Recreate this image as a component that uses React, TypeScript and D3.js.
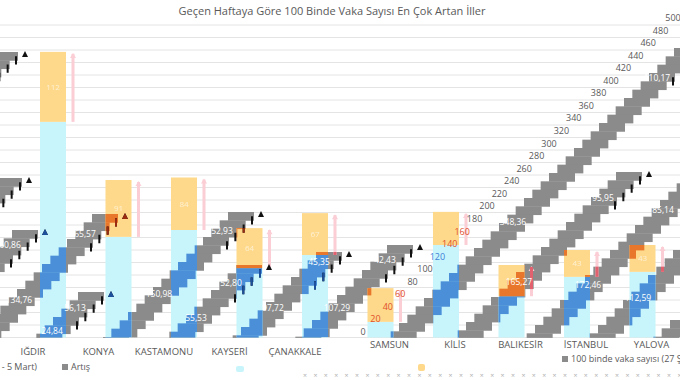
import React from "react";
import * as d3 from "d3";

const W = 680;
const H = 380;

const title = "Geçen Haftaya Göre 100 Binde Vaka Sayısı En Çok Artan İller";
const categories = ["IĞDIR", "KONYA", "KASTAMONU", "KAYSERİ", "ÇANAKKALE", "SAMSUN", "KİLİS", "BALIKESİR", "İSTANBUL", "YALOVA"];
// 100 binde vaka sayısı (previous week) and increase
const prevWeek = [345, 161, 172, 111, 132, 25, 148, 66, 97, 105];
const increase = [112, 91, 84, 64, 67, 54, 53, 50, 43, 43];
const axisTicks = [0, 20, 40, 60, 80, 100, 120, 140, 160, 180, 200, 220, 240, 260, 280, 300, 320, 340, 360, 380, 400, 420, 440, 460, 480, 500];
const legendLeft = "100 binde vaka sayısı (27 Şubat - 5 Mart)";
const legendArtis = "Artış";
const legendRight = "100 binde vaka sayısı (27 Şubat - 5 Mart)";

// diagonal gray label bands (smeared "Artış" labels)
const bandEdge = [70, 200, 268, 332, 396, 466, 527, 594, 658, 748, 814, 886, 949, 1016];
const bandTop = [52, 178, 230, 214, 292, 212, 265, 252, 245, 48, 172, 150, 200, 320];
const bandLabelText = [[], [], ["60,86"], ["65,57", "134,76"], ["56,13", "24,84"], ["52,93", "150,98"], ["52,80", "55,53"], ["45,35", "97,72"], ["42,43", "107,29"], ["110,17", "348,36"], ["95,95", "165,27"], ["85,14", "172,46"], ["112,59"], []];
const bandLabelY = [[], [], [245], [234, 300], [308, 331], [231, 294], [283, 318], [262, 308], [260, 308], [78, 222], [198, 282], [210, 285], [298], []];

const C = {
  grid: "#e4e4e4",
  text: "#595959",
  band: "#8b8b8b",
  light: "#c8f5fc",
  dark: "#4a8fd8",
  yellow: "#fed98c",
  orange: "#e9772b",
  pink: "#fbcdd5",
  red: "#e2616f",
};

const FONT = "'Open Sans', 'DejaVu Sans', sans-serif";

export default function App() {
  const y = d3.scaleLinear().domain([0, 500]).range([337.5, 25]);
  const x = d3.scalePoint<string>().domain(categories).range([20.25, 675.25]).padding(0.5);
  const axX = d3.scaleLinear().domain([0, 500]).range([363, 673]);
  const axY = d3.scaleLinear().domain([0, 500]).range([332, 18]);
  const BAR = 26;
  const STEP = 25 / 3;
  const BW = 26;
  const base = y(0);

  const bars = categories.map((c, i) => {
    const xc = x(c) as number;
    return {
      c,
      i,
      xc,
      x0: xc - BAR / 2,
      yBase: y(prevWeek[i]),
      yTot: y(prevWeek[i] + increase[i]),
    };
  });

  const bandSteps = bandEdge.map((c, b) => {
    const out: { x: number; y: number; h: number; xr: number }[] = [];
    for (let yy = bandTop[b]; yy < base; yy += STEP) {
      out.push({ x: c - yy - BW, y: yy, h: Math.min(STEP, base - yy) + 0.4, xr: c - yy });
    }
    return out;
  });
  const allSteps = bandSteps.flat();

  const ticks = bandEdge.flatMap((c, b) => {
    const t = bandTop[b];
    const arr = [0, 1, 2, 3].map((k) => {
      const yk = t + k * STEP;
      return { x: c - yk - 2, y1: yk + STEP * 0.5, y2: yk + STEP * 1.5 };
    });
    return arr.filter((d) => d.y2 < base + 2);
  });
  const tris = bandEdge.map((c, b) => ({ x: c - bandTop[b] + 7, y: bandTop[b] + 1 }));

  // positions of all other small labels, to keep the faint in-bar labels clear of them
  const bandLabelPos = bandEdge.flatMap((c, b) => bandLabelY[b].map((yy) => ({ x: c - yy - BW / 2, y: yy })));
  const axisLabelPos = axisTicks.map((v) => ({ x: axX(v), y: axY(v) }));
  const occupied = [...bandLabelPos, ...axisLabelPos];

  const labelColor = (cx: number, cy: number) => {
    for (const b of bars) {
      if (cx >= b.x0 && cx <= b.x0 + BAR + 9) {
        if (cy >= b.yTot && cy < b.yBase) return "#e0502a";
        if (cy >= b.yBase && cy <= base && cx <= b.x0 + BAR) return "#3d7fd6";
      }
    }
    return C.text;
  };

  const tickEls = (color: string) => (
    <g>
      {ticks.map((d, k) => (
        <line key={"t" + k} x1={d.x} x2={d.x} y1={d.y1} y2={d.y2} stroke={color} strokeWidth={2} />
      ))}
      {tris.map((d, k) => (
        <path key={"tr" + k} d={`M${d.x - 3},${d.y + 4}L${d.x + 3},${d.y + 4}L${d.x},${d.y - 2}Z`} fill={color} />
      ))}
    </g>
  );

  const pinkLines = bars.map((b) => ({ x: b.x0 + BAR + 7, y1: b.yTot + 2, y2: b.yBase }));

  const xMarks = d3.range(305, 680, 10.4);

  return (
    <svg width={W} height={H} style={{ position: "absolute", left: 0, top: 0, display: "block", background: "#fff" }} fontFamily={FONT}>
      <defs>
        <clipPath id="plotClip">
          <rect x={0} y={20} width={W} height={base - 20 + 1} />
        </clipPath>
        <clipPath id="bandClip">
          {allSteps.map((s, k) => (
            <rect key={k} x={s.x} y={s.y} width={BW} height={s.h} />
          ))}
        </clipPath>
        <clipPath id="blueClip">
          {bars.map((b) => (
            <rect key={b.c} x={b.x0} y={b.yBase} width={BAR} height={base - b.yBase} />
          ))}
        </clipPath>
        <clipPath id="yellowClip">
          {bars.map((b) => (
            <rect key={b.c} x={b.x0} y={b.yTot} width={BAR} height={b.yBase - b.yTot} />
          ))}
        </clipPath>
      </defs>

      <text x={332} y={15} textAnchor="middle" fontSize={11} fill={C.text}>
        {title}
      </text>

      {axisTicks.map((v) => (
        <line key={v} x1={0} x2={W} y1={y(v)} y2={y(v)} stroke={C.grid} strokeWidth={1} />
      ))}

      <g clipPath="url(#plotClip)">
        {allSteps.map((s, k) => (
          <rect key={k} x={s.x} y={s.y} width={BW} height={s.h} fill={C.band} />
        ))}

        {bars.map((b) => (
          <g key={b.c}>
            <rect x={b.x0} y={b.yBase} width={BAR} height={base - b.yBase} fill={C.light} />
            <rect x={b.x0} y={b.yTot} width={BAR} height={b.yBase - b.yTot} fill={C.yellow} />
          </g>
        ))}

        <g clipPath="url(#bandClip)">
          {bars.map((b) => (
            <g key={b.c}>
              <rect x={b.x0} y={b.yBase} width={BAR} height={base - b.yBase} fill={C.dark} />
              <rect x={b.x0} y={b.yTot} width={BAR} height={b.yBase - b.yTot} fill={C.orange} />
            </g>
          ))}
        </g>

        {pinkLines.map((p, k) => (
          <g key={k}>
            <rect x={p.x - 1.5} y={p.y1} width={3} height={p.y2 - p.y1} fill={C.pink} />
            <path d={`M${p.x - 3},${p.y1 + 4}L${p.x + 3},${p.y1 + 4}L${p.x},${p.y1 - 1}Z`} fill={C.pink} />
          </g>
        ))}
        <g clipPath="url(#bandClip)">
          {pinkLines.map((p, k) => (
            <rect key={k} x={p.x - 1.5} y={p.y1} width={3} height={p.y2 - p.y1} fill={C.red} />
          ))}
        </g>

        {tickEls("#111")}
        <g clipPath="url(#blueClip)">{tickEls("#1c4f9c")}</g>
        <g clipPath="url(#yellowClip)">{tickEls("#9a2a10")}</g>

        {bars.map((b) => {
          const ty = (b.yTot + b.yBase) / 2;
          const clash = occupied.some((p) => Math.abs(p.x - b.xc) < 22 && Math.abs(p.y - ty) < 11);
          if (clash) return null;
          return (
            <text key={"inc" + b.c} x={b.xc} y={ty + 3} textAnchor="middle" fontSize={8} fill="#fff" opacity={0.6}>
              {increase[b.i]}
            </text>
          );
        })}

        {bandEdge.map((c, b) =>
          bandLabelText[b].map((t, k) => {
            const yy = bandLabelY[b][k];
            return (
              <text key={b + "-" + k} x={c - yy - BW / 2} y={yy + 3} textAnchor="middle" fontSize={8.5} fill="#fff">
                {t}
              </text>
            );
          })
        )}
      </g>

      {axisTicks.map((v) => {
        const cx = axX(v);
        const cy = axY(v);
        return (
          <text key={v} x={cx} y={cy + 3} textAnchor="middle" fontSize={9} fill={labelColor(cx, cy)}>
            {v}
          </text>
        );
      })}

      {bars.map((b) => (
        <text
          key={"cat" + b.c}
          x={b.i < 5 ? b.xc - 20 : b.xc + 9}
          y={b.i < 5 ? 355 : 348}
          textAnchor="middle"
          fontSize={9.5}
          fill={C.text}
        >
          {b.c}
        </text>
      ))}

      <text x={37} y={370} textAnchor="end" fontSize={9} fill={C.text}>
        {legendLeft}
      </text>
      <rect x={62} y={364} width={6} height={6} fill={C.band} />
      <text x={71} y={370} fontSize={9} fill={C.text}>
        {legendArtis}
      </text>

      <rect x={562} y={356} width={6} height={6} fill={C.band} />
      <text x={571} y={362} fontSize={9} fill={C.text}>
        {legendRight}
      </text>

      <rect x={236} y={366} width={8} height={6} rx={2} fill={C.light} />
      <rect x={418} y={364} width={7} height={7} rx={2} fill={C.yellow} />

      {xMarks.map((mx, k) => (
        <text key={"x" + k} x={mx} y={378} fontSize={7} fill="#b0b0b0" textAnchor="middle">
          ×
        </text>
      ))}
    </svg>
  );
}
